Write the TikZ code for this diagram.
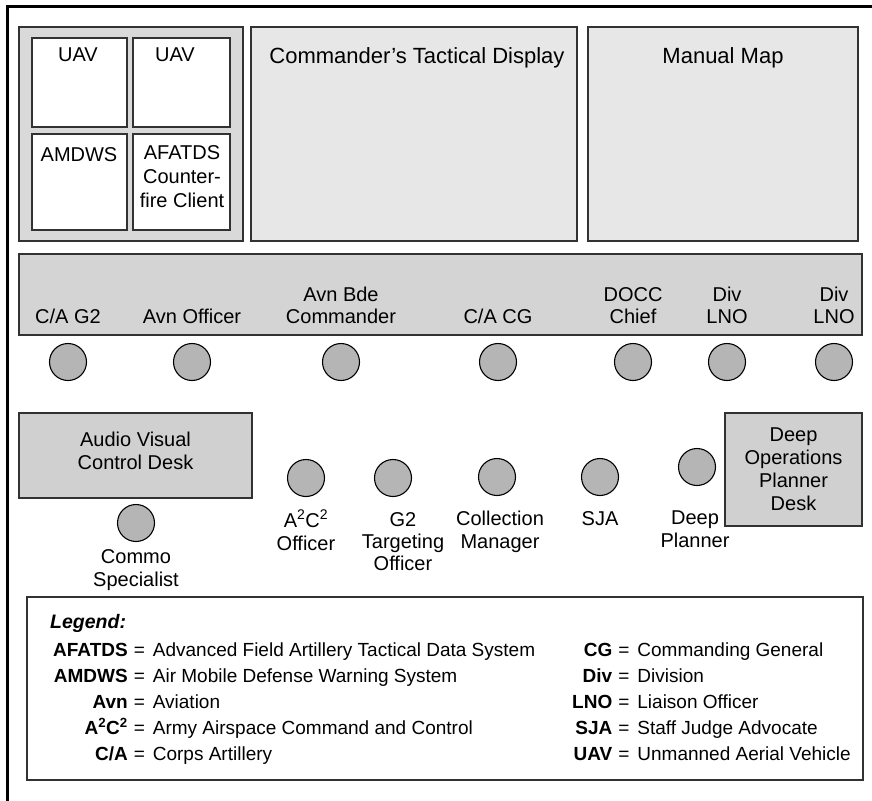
\documentclass[tikz,border=0pt]{standalone}
\usepackage{fontspec}
\setmainfont{Liberation Sans}
\usepackage{xcolor}
\usetikzlibrary{positioning}
\definecolor{consoleGray}{RGB}{217,217,217}
\definecolor{screenGray}{RGB}{231,231,231}
\definecolor{benchGray}{RGB}{212,212,212}
\definecolor{deskGray}{RGB}{208,208,208}
\definecolor{seatGray}{RGB}{181,181,181}
\definecolor{edgeGray}{RGB}{50,50,50}
\newcommand{\AtwoCtwo}{A\textsuperscript{2}C\textsuperscript{2}}

\begin{document}
\begin{tikzpicture}[x=1pt,y=-1pt,
  panel/.style={draw=edgeGray,line width=1.1pt,inner sep=0pt,outer sep=0pt,anchor=north west},
  seat/.style={circle,draw=black,fill=seatGray,line width=1.1pt,minimum size=37pt,inner sep=0pt},
  tag/.style={inner sep=0pt,align=center,font=\fontsize{20}{22}\selectfont},
  keylist/.style={anchor=west,inner sep=0pt,font=\fontsize{19}{26}\selectfont}]
\useasboundingbox (0,0) rectangle (872,800);
\draw[line width=3pt] (7,803) -- (7,7) -- (875,7);

\node[panel,fill=consoleGray,minimum width=224pt,minimum height=214pt] (consoles) at (19,27) {};
\node[panel,fill=white,minimum width=95pt,minimum height=89pt] (uavA) at (32,38) {};
\node[panel,fill=white,minimum width=97pt,minimum height=89pt] (uavB) at (133,38) {};
\node[panel,fill=white,minimum width=95pt,minimum height=96pt] (amdws) at (32,134) {};
\node[panel,fill=white,minimum width=97pt,minimum height=96pt] (afatds) at (133,134) {};
\node[panel,fill=screenGray,minimum width=326pt,minimum height=214pt] (ctd) at (251,27) {};
\node[panel,fill=screenGray,minimum width=270pt,minimum height=214pt] (map) at (588,27) {};
\node[panel,fill=benchGray,minimum width=843pt,minimum height=81pt] (bench) at (19,254) {};
\node[panel,fill=deskGray,minimum width=233pt,minimum height=85pt] (avdesk) at (19,413) {};
\node[panel,fill=deskGray,minimum width=137pt,minimum height=113pt] (dopdesk) at (725,413) {};
\node[panel,fill=white,minimum width=836pt,minimum height=183pt] (legend) at (27,597) {};

\node[tag,anchor=north] (uavAtext) at (78,48) {UAV};
\node[tag,anchor=north] (uavBtext) at (175,48) {UAV};
\node[tag,anchor=north] (amdwstext) at (79,147) {AMDWS};
\node[tag,anchor=north,font=\fontsize{20}{24}\selectfont] (afatdstext) at (182,145) {AFATDS\\Counter-\\fire Client};
\node[tag,anchor=north,font=\fontsize{22}{24}\selectfont] (ctdtext) at (417,47) {Commander’s Tactical Display};
\node[tag,anchor=north,font=\fontsize{22}{24}\selectfont] (maptext) at (723,47) {Manual Map};

\node[seat] (cag2) at (68,362) {};
\node[seat] (avnoff) at (192,362) {};
\node[seat] (avnbde) at (341,362) {};
\node[seat] (cacg) at (498,362) {};
\node[seat] (docc) at (633,362) {};
\node[seat] (divA) at (727,362) {};
\node[seat] (divB) at (834,362) {};
\node[tag,above=19pt of cag2] (cag2text) {C/A G2};
\node[tag,above=19pt of avnoff] (avnofftext) {Avn Officer};
\node[tag,above=19pt of avnbde] (avnbdetext) {Avn Bde\\Commander};
\node[tag,above=19pt of cacg] (cacgtext) {C/A CG};
\node[tag,above=19pt of docc] (docctext) {DOCC\\Chief};
\node[tag,above=19pt of divA] (divAtext) {Div\\LNO};
\node[tag,above=19pt of divB] (divBtext) {Div\\LNO};

\node[tag,font=\fontsize{20}{23}\selectfont] (avdesktext) at ([yshift=5pt]avdesk.center) {Audio Visual\\Control Desk};
\node[tag,font=\fontsize{20}{23}\selectfont] (dopdesktext) at (dopdesk.center) {Deep\\Operations\\Planner\\Desk};

\node[seat] (commo) at (136,523) {};
\node[seat] (atwoctwo) at (306,478) {};
\node[seat] (gtwo) at (393,478) {};
\node[seat] (collm) at (497,477) {};
\node[seat] (sja) at (600,477) {};
\node[seat] (deepp) at (697,467) {};
\node[tag,anchor=north,font=\fontsize{20}{23}\selectfont] (commotext) at (136,549) {Commo\\Specialist};
\node[tag,anchor=north,font=\fontsize{20}{23}\selectfont] (atwoctwotext) at (306,510) {\AtwoCtwo\\Officer};
\node[tag,anchor=north,font=\fontsize{20}{22}\selectfont] (gtwotext) at (403,512) {G2\\Targeting\\Officer};
\node[tag,anchor=north,font=\fontsize{20}{23}\selectfont] (collmtext) at (500,511) {Collection\\Manager};
\node[tag,anchor=north,font=\fontsize{20}{23}\selectfont] (sjatext) at (600,511) {SJA};
\node[tag,anchor=north,font=\fontsize{20}{23}\selectfont] (deepptext) at (695,511) {Deep\\Planner};

\node[anchor=west,inner sep=0pt,font=\fontsize{19.5}{22}\selectfont\bfseries\itshape] (legendtitle) at (50,623) {Legend:};
\node[keylist] (legendleft) at (53,703) {%
\begin{tabular}{@{}r@{\hspace{6pt}=\hspace{8pt}}l@{}}
\textbf{AFATDS} & Advanced Field Artillery Tactical Data System\\
\textbf{AMDWS} & Air Mobile Defense Warning System\\
\textbf{Avn} & Aviation\\
\textbf{\AtwoCtwo} & Army Airspace Command and Control\\
\textbf{C/A} & Corps Artillery
\end{tabular}};
\node[keylist] (legendright) at (572,703) {%
\begin{tabular}{@{}r@{\hspace{6pt}=\hspace{8pt}}l@{}}
\textbf{CG} & Commanding General\\
\textbf{Div} & Division\\
\textbf{LNO} & Liaison Officer\\
\textbf{SJA} & Staff Judge Advocate\\
\textbf{UAV} & Unmanned Aerial Vehicle
\end{tabular}};
\end{tikzpicture}
\end{document}
